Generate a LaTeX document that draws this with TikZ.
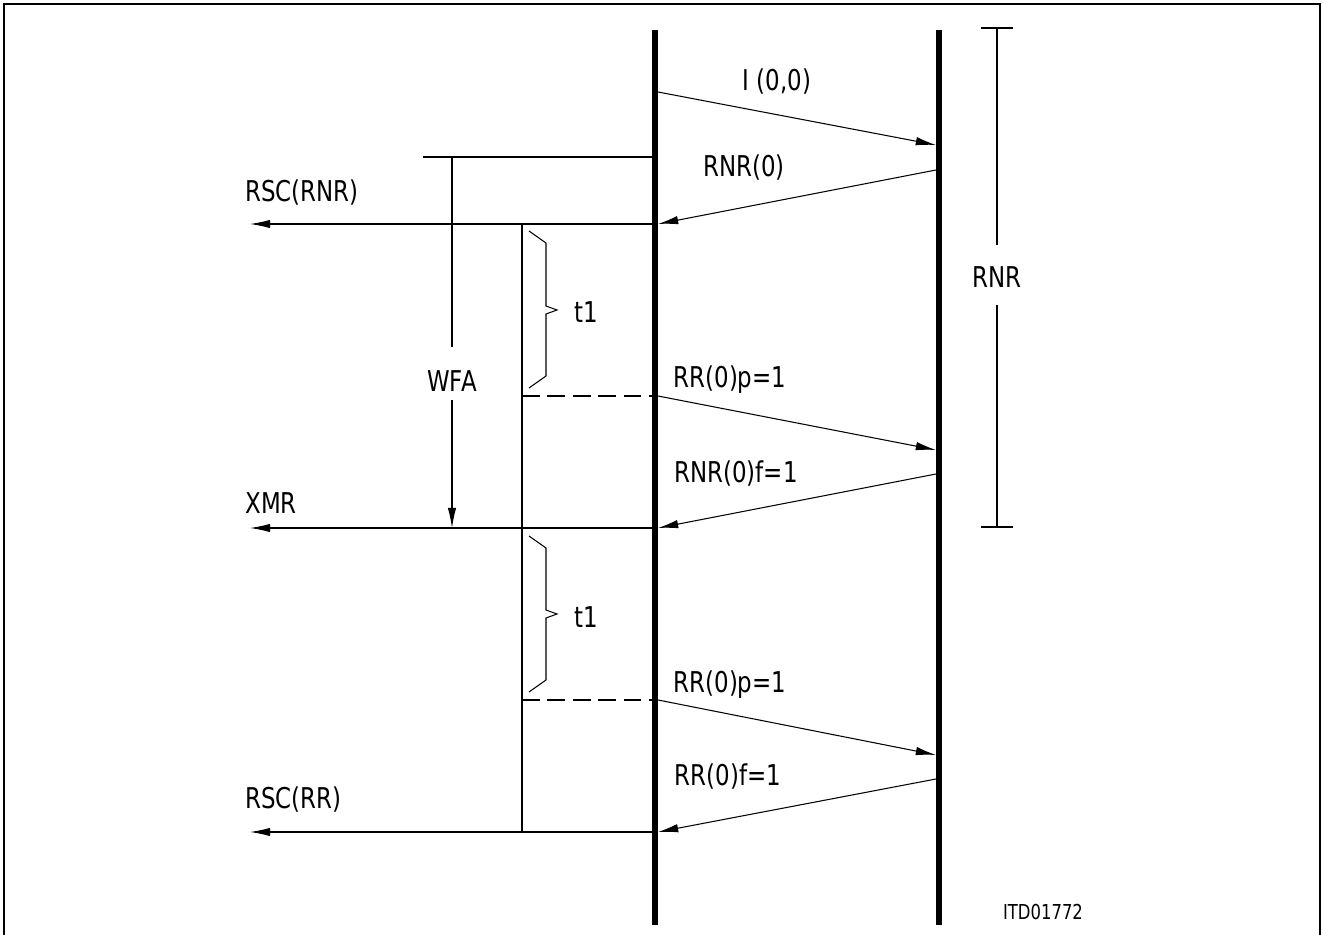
\documentclass[tikz,border=0pt]{standalone}
\usepackage{fontspec}
\setmainfont{DejaVu Sans}[FakeStretch=0.8]
\usetikzlibrary{arrows.meta}

\tikzset{
  lifeline/.style={line width=3pt},
  hair/.style={line width=0.6pt},
  msg/.style={hair, -{Latex[length=11.5pt,width=4.8pt]}},
  waitline/.style={hair, dash pattern=on 10pt off 4.5pt},
  lbl/.style={font=\fontsize{16.3}{18}\selectfont, inner sep=0pt},
}

\begin{document}
\begin{tikzpicture}[x=0.02cm, y=-0.02cm]
    \useasboundingbox (0,0) rectangle (1323,935);
    % frame
    \draw[line width=1.1pt] (4,935) -- (4,4) -- (1320,4) -- (1320,935);

    % the two stations
    \coordinate (LT) at (655,30);
    \coordinate (LB) at (655,925);
    \coordinate (RT) at (939,30);
    \coordinate (RB) at (939,925);
    \draw[lifeline] (LT) -- (LB);
    \draw[lifeline] (RT) -- (RB);

    % frames between the stations
    \coordinate (m1s) at (658,92);  \coordinate (m1e) at (936,145);
    \coordinate (m2s) at (936,170); \coordinate (m2e) at (658,224);
    \coordinate (m3s) at (658,396); \coordinate (m3e) at (936,450);
    \coordinate (m4s) at (936,474); \coordinate (m4e) at (658,528);
    \coordinate (m5s) at (658,700); \coordinate (m5e) at (936,755);
    \coordinate (m6s) at (936,779); \coordinate (m6e) at (658,832);
    \draw[msg] (m1s) -- (m1e);
    \draw[msg] (m2s) -- (m2e);
    \draw[msg] (m3s) -- (m3e);
    \draw[msg] (m4s) -- (m4e);
    \draw[msg] (m5s) -- (m5e);
    \draw[msg] (m6s) -- (m6e);
    \node[lbl] (m1) at (777,82) {I (0,0)};
    \node[lbl] (m2) at (744,168) {RNR(0)};
    \node[lbl] (m3) at (730,380) {RR(0)p=1};
    \node[lbl] (m4) at (736,474) {RNR(0)f=1};
    \node[lbl] (m5) at (730,685) {RR(0)p=1};
    \node[lbl] (m6) at (728,777) {RR(0)f=1};

    % indications to the left
    \coordinate (o1s) at (652,224); \coordinate (o1e) at (250,224);
    \coordinate (o2s) at (652,528); \coordinate (o2e) at (250,528);
    \coordinate (o3s) at (652,832); \coordinate (o3e) at (250,832);
    \draw[msg] (o1s) -- (o1e);
    \draw[msg] (o2s) -- (o2e);
    \draw[msg] (o3s) -- (o3e);
    \node[lbl, anchor=west] (o1) at (245,193) {RSC(RNR)};
    \node[lbl, anchor=west] (o2) at (245,503) {XMR};
    \node[lbl, anchor=west] (o3) at (245,800) {RSC(RR)};

    % WFA interval
    \coordinate (w0) at (423,157);
    \coordinate (w1) at (452,157);
    \coordinate (w2) at (452,347);
    \coordinate (w3) at (452,400);
    \coordinate (w4) at (452,528);
    \draw[hair] (w0) -- (652,157);
    \draw[hair] (w1) -- (w2);
    \draw[msg] (w3) -- (w4);
    \node[lbl] (wfa) at (452,381) {WFA};

    % timer t1
    \coordinate (t0) at (522,224);
    \coordinate (t9) at (522,832);
    \draw[hair] (t0) -- (t9);
    \draw[waitline] (522,396) -- (652,396);
    \draw[waitline] (522,700) -- (652,700);
    \draw[hair] (529,231) -- (546,243) -- (546,306) -- (557,310) -- (546,314) -- (546,376) -- (529,388);
    \draw[hair] (529,536) -- (546,548) -- (546,610) -- (557,614) -- (546,618) -- (546,680) -- (529,692);
    \node[lbl] (ta) at (586,312) {t1};
    \node[lbl] (tb) at (586,617) {t1};

    % RNR state
    \coordinate (r0) at (997,28);
    \coordinate (r1) at (997,245);
    \coordinate (r2) at (997,305);
    \coordinate (r3) at (997,527);
    \draw[hair] (981,28) -- (1013,28);
    \draw[hair] (981,527) -- (1013,527);
    \draw[hair] (r0) -- (r1);
    \draw[hair] (r2) -- (r3);
    \node[lbl] (rnr) at (997,277) {RNR};

    \node[font=\fontsize{11.7}{14}\selectfont, inner sep=0pt] (id) at (1043,912) {ITD01772};
\end{tikzpicture}
\end{document}
